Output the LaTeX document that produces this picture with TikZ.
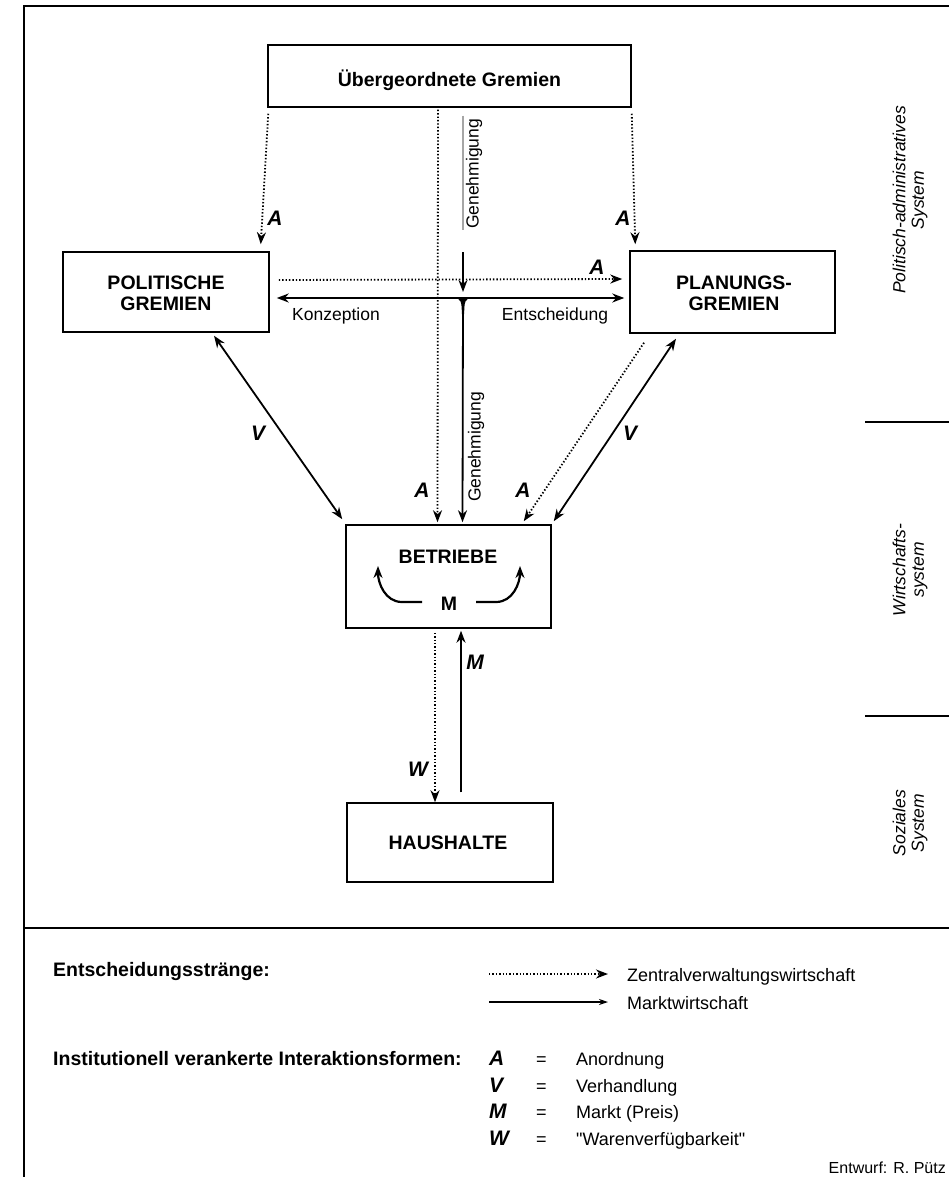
\documentclass[tikz,border=0pt]{standalone}
\usepackage{fontspec}
\setmainfont{Liberation Sans}
\newfontfamily\plainquotes{Liberation Sans}
\usetikzlibrary{arrows.meta,calc}
\begin{document}
\begin{tikzpicture}[x=1pt,y=-1pt,
  box/.style={draw,line width=1.5pt,inner sep=0pt},
  boxlabel/.style={font=\fontsize{19.5}{21}\selectfont\bfseries,align=center,inner sep=0pt},
  letter/.style={font=\fontsize{21}{22}\selectfont\bfseries\itshape,inner sep=0pt},
  small/.style={font=\fontsize{17.5}{19}\selectfont,inner sep=0pt},
  legend/.style={font=\fontsize{18}{20}\selectfont,inner sep=0pt,anchor=base west},
  side/.style={font=\fontsize{17.5}{18.5}\selectfont\itshape,align=center,rotate=90,inner sep=0pt},
  tip/.style={-{Stealth[length=12pt,width=9pt]}},
  twotip/.style={{Stealth[length=12pt,width=9pt]}-{Stealth[length=12pt,width=9pt]}},
  solidline/.style={line width=1.8pt},
  dotline/.style={line width=1.8pt,dash pattern=on 1.4pt off 2pt}]
\useasboundingbox (0,0) rectangle (949,1177);

% frame
\draw[line width=1.4pt] (24,1177) -- (24,6) -- (949,6);
\draw[line width=1.4pt] (24,928) -- (949,928);
\draw[line width=2.2pt] (865,422) -- (949,422);
\draw[line width=1.3pt] (865,716) -- (949,716);

% system labels
\node[side] (sysPol) at (910,200) {Politisch-administratives\\System};
\node[side] (sysWirt) at (910,570) {Wirtschafts-\\system};
\node[side] (sysSoz) at (910,823) {Soziales\\System};

% boxes
\node[box,minimum width=363pt,minimum height=62pt] (ueber) at (449.5,76) {};
\node[boxlabel] (ueberT) at (449.5,80) {Übergeordnete Gremien};
\node[box,minimum width=206pt,minimum height=80pt] (polit) at (166,292) {};
\node[boxlabel] (politT) at (166,293) {POLITISCHE\\GREMIEN};
\node[box,minimum width=205pt,minimum height=82pt] (plan) at (732.5,292) {};
\node[boxlabel] (planT) at (734,293) {PLANUNGS-\\GREMIEN};
\node[box,minimum width=205pt,minimum height=103pt] (betr) at (448.5,576.5) {};
\node[boxlabel] (betrT) at (448,557) {BETRIEBE};
\node[boxlabel] (betrM) at (449,604) {M};
\node[box,minimum width=206pt,minimum height=79pt] (haus) at (450,842.5) {};
\node[boxlabel] (hausT) at (448,843) {HAUSHALTE};

% orders from the superior bodies
\draw[dotline,tip] ([xshift=1pt,yshift=-6pt]ueber.south west) -- ([xshift=-9pt,yshift=7pt]polit.north east);
\draw[dotline,tip] ([xshift=0pt,yshift=-6pt]ueber.south east) -- ([xshift=6pt,yshift=6pt]plan.north west);
\node[letter] (aL) at (275,218) {A};
\node[letter] (aR) at (623,218) {A};
\draw[dotline,tip] ([xshift=-11.5pt,yshift=-2pt]ueber.south) -- ([xshift=-11pt,yshift=2pt]betr.north);

% approval from above
\coordinate (T) at (463,298);
\draw[line width=1.1pt,gray!70] ([xshift=13.5pt,yshift=-8pt]ueber.south) -- (463,230);
\draw[line width=1.4pt,tip] (463,252) -- ([yshift=6pt]T);
\node[small,rotate=90] (gen1) at (474,174) {Genehmigung};

% political bodies <-> planning bodies
\draw[dotline,tip] ([xshift=9pt,yshift=12pt]polit.east) -- ([xshift=-7pt,yshift=13pt]plan.west);
\node[letter] (aH) at (597,267) {A};
\draw[solidline,twotip] ([xshift=7pt,yshift=-6pt]polit.east) -- ([xshift=-5pt,yshift=-6pt]plan.west);
\node[small] (konz) at (336,316) {Konzeption};
\node[small] (entsch) at (555,316) {Entscheidung};

% junction down to the firms
\fill (454,298) .. controls (461,298) and (461.8,302) .. (461.8,314)
  -- (464.2,314) .. controls (464.2,302) and (465,298) .. (472,298) -- cycle;
\draw[solidline,tip] (T) -- ([xshift=14pt,yshift=2pt]betr.north);
\node[small,rotate=90] (gen2) at (476,447) {Genehmigung};

% negotiations and orders to the firms
\draw[solidline,twotip] ([xshift=48pt,yshift=-3pt]polit.south) -- ([xshift=-3pt,yshift=5pt]betr.north west);
\node[letter] (vL) at (258,433) {V};
\draw[solidline,twotip] ([xshift=-56.5pt,yshift=-5pt]plan.south) -- ([xshift=2pt,yshift=3pt]betr.north east);
\node[letter] (vR) at (630,433) {V};
\draw[dotline,tip] ([xshift=-88.5pt,yshift=-9pt]plan.south) -- ([xshift=-28pt,yshift=3pt]betr.north east);
\node[letter] (aC) at (422,490) {A};
\node[letter] (aD) at (523,490) {A};

% market inside the firms
\draw[line width=2.2pt,tip] (422,602) -- (402,602) to[out=180,in=-90] (378,566);
\draw[line width=2.2pt,tip] (476,602) -- (496,602) to[out=0,in=-90] (520,566);

% firms <-> households
\draw[dotline,tip] ([xshift=-13.5pt,yshift=-4pt]betr.south) -- ([xshift=-15pt]haus.north);
\node[letter] (wB) at (418,769) {W};
\draw[solidline,tip] ([xshift=11pt,yshift=10pt]haus.north) -- ([xshift=12.5pt,yshift=-2pt]betr.south);
\node[letter] (mB) at (475,662) {M};

% legend
\node[legend,font=\fontsize{19.5}{21}\selectfont\bfseries] (lgHead) at (53,976) {Entscheidungsstränge:};
\coordinate (lgD1) at (489,974);
\node[legend] (lgZ) at (627,981) {Zentralverwaltungswirtschaft};
\draw[dotline,tip] (lgD1) -- (608,974);
\coordinate (lgS1) at (489,1002);
\node[legend] (lgM) at (627,1009) {Marktwirtschaft};
\draw[solidline,-{Stealth[length=9pt,width=6pt]}] (lgS1) -- (608,1002);

\node[legend,font=\fontsize{19.5}{21}\selectfont\bfseries] (lgInst) at (53,1065) {Institutionell verankerte Interaktionsformen:};
\node[letter,anchor=base west] (kA) at (489,1065) {A};
\node[legend] (eA) at (536,1065) {=};
\node[legend] (tA) at (576,1065) {Anordnung};
\node[letter,anchor=base west] (kV) at (489,1092) {V};
\node[legend] (eV) at (536,1092) {=};
\node[legend] (tV) at (576,1092) {Verhandlung};
\node[letter,anchor=base west] (kM) at (489,1118) {M};
\node[legend] (eM) at (536,1118) {=};
\node[legend] (tM) at (576,1118) {Markt (Preis)};
\node[letter,anchor=base west] (kW) at (489,1145) {W};
\node[legend] (eW) at (536,1145) {=};
\node[legend] (tW) at (576,1145) {\plainquotes "Warenverfügbarkeit"};

\node[font=\fontsize{16}{18}\selectfont,anchor=east,inner sep=0pt] (credit) at (946,1168) {Entwurf: R. Pütz};
\end{tikzpicture}
\end{document}
